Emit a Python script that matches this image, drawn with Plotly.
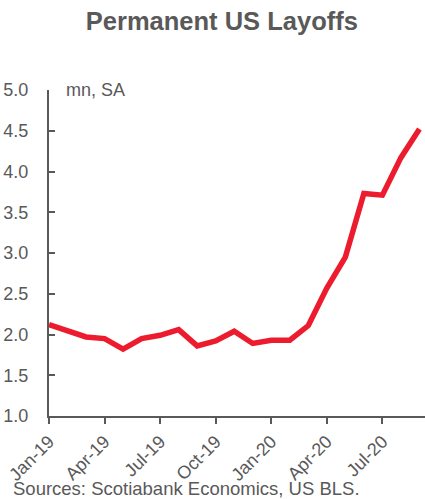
import plotly.graph_objects as go

# Monthly permanent layoffs, millions, seasonally adjusted
months = ["Jan-19", "Feb-19", "Mar-19", "Apr-19", "May-19", "Jun-19", "Jul-19",
          "Aug-19", "Sep-19", "Oct-19", "Nov-19", "Dec-19", "Jan-20", "Feb-20",
          "Mar-20", "Apr-20", "May-20", "Jun-20", "Jul-20", "Aug-20", "Sep-20"]
layoffs = [2.12, 2.04, 1.97, 1.95, 1.82, 1.95, 1.99, 2.06, 1.86, 1.92, 2.04,
           1.89, 1.93, 1.93, 2.11, 2.57, 2.95, 3.73, 3.71, 4.17, 4.52]
tick_labels = ["Jan-19", "Apr-19", "Jul-19", "Oct-19", "Jan-20", "Apr-20", "Jul-20"]
y_ticks = [1.0, 1.5, 2.0, 2.5, 3.0, 3.5, 4.0, 4.5, 5.0]

GREY = "#595959"
FONT = "Liberation Sans, Arial, sans-serif"

fig = go.Figure()
fig.add_trace(go.Scatter(
    x=months, y=layoffs, mode="lines",
    line=dict(color="#EC1C2E", width=5.5),
    hoverinfo="skip",
))

fig.update_layout(
    width=425, height=499,
    margin=dict(l=49, r=0, t=90, b=83),
    paper_bgcolor="white", plot_bgcolor="white",
    showlegend=False,
    font=dict(family=FONT, color=GREY, size=18),
    title=dict(text="<b>Permanent US Layoffs</b>", x=0.522, xanchor="center",
               y=0.958, yanchor="middle",
               font=dict(size=25.5, color=GREY, family=FONT)),
)

fig.update_xaxes(
    type="category", range=[0, 20.3],
    tickvals=tick_labels, ticktext=tick_labels, tickangle=-45,
    showline=True, linecolor=GREY, linewidth=2,
    ticks="outside", ticklen=6, tickwidth=2, tickcolor=GREY,
    showgrid=False, zeroline=False,
    tickfont=dict(size=18, color=GREY, family=FONT),
)
fig.update_yaxes(
    range=[1, 5], tickvals=y_ticks, tickformat=".1f",
    showline=True, linecolor=GREY, linewidth=2,
    ticks="inside", ticklen=6, tickwidth=2, tickcolor=GREY,
    showgrid=False, zeroline=False, ticklabelstandoff=15,
    tickfont=dict(size=18, color=GREY, family=FONT),
)

fig.add_annotation(text="mn, SA", xref="paper", yref="paper", x=0.04, y=1.0,
                   xanchor="left", yanchor="middle", showarrow=False,
                   font=dict(size=18, color=GREY, family=FONT))
fig.add_annotation(text="Sources: Scotiabank Economics, US BLS.", xref="paper",
                   yref="paper", x=-0.1, y=-0.222, xanchor="left", yanchor="middle",
                   showarrow=False, font=dict(size=18.5, color=GREY, family=FONT))

fig.write_html("out.html")
